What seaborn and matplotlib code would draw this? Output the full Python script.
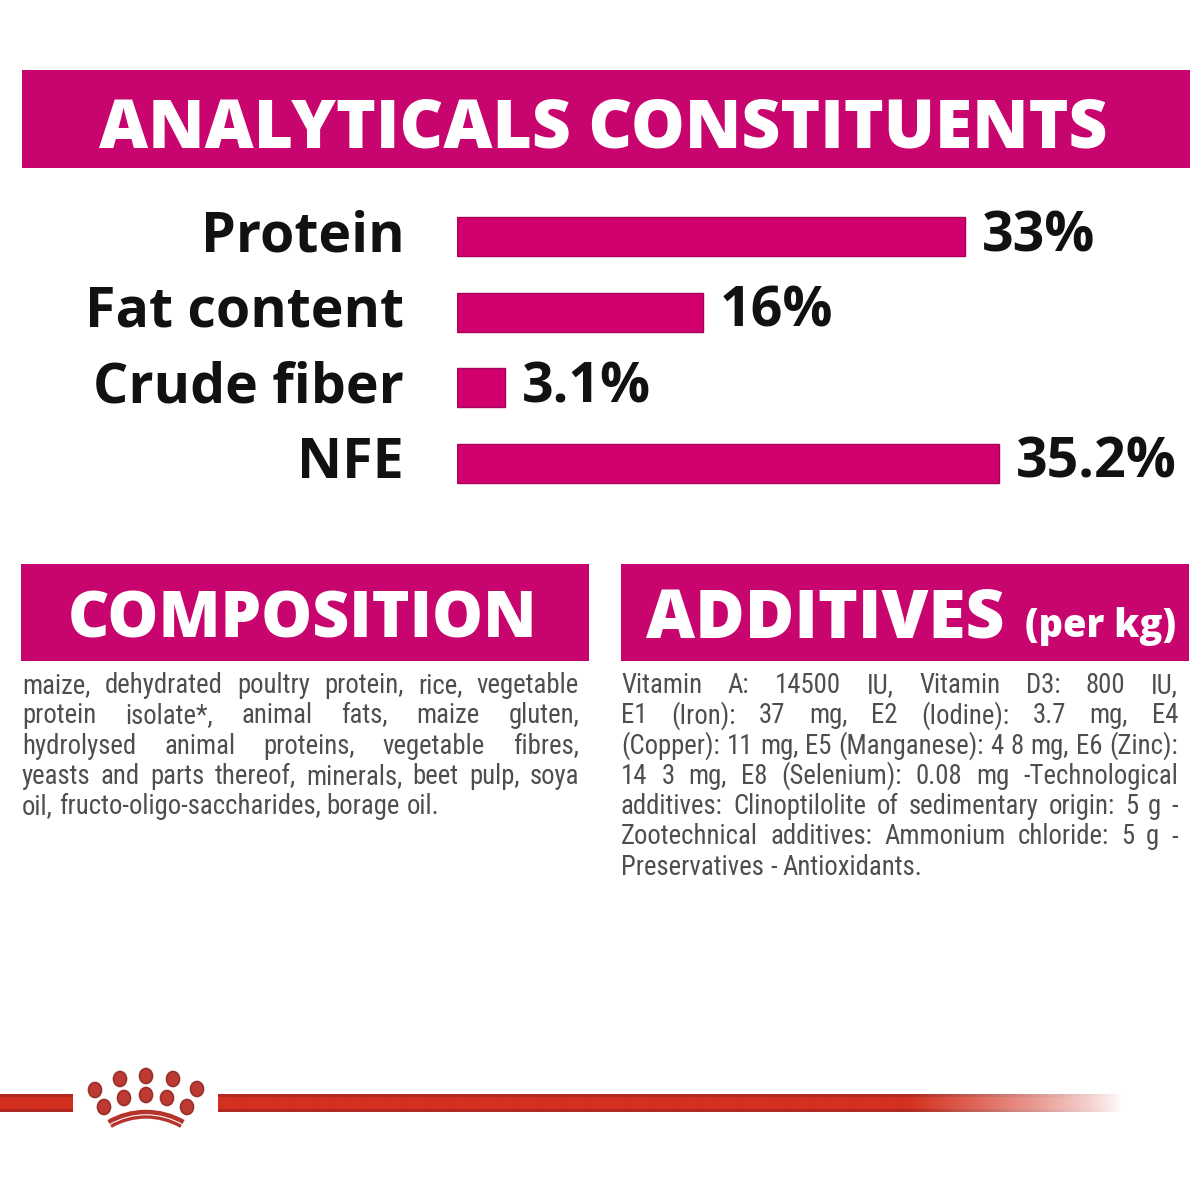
import numpy as np
import matplotlib
matplotlib.use("Agg")
import matplotlib.pyplot as plt
import seaborn as sns
import pandas as pd
from matplotlib.patches import Rectangle, Ellipse, Arc
from matplotlib import font_manager

# ---------------- data ----------------
categories = ["Protein", "Fat content", "Crude fiber", "NFE"]
values = [33.0, 16.0, 3.1, 35.2]
value_labels = ["33%", "16%", "3.1%", "35.2%"]

title_main = "ANALYTICALS CONSTITUENTS"
title_comp = "COMPOSITION"
title_add = "ADDITIVES"
title_add_unit = "(per kg)"

composition_lines = [
    "maize, dehydrated poultry protein, rice, vegetable",
    "protein isolate*, animal fats, maize gluten,",
    "hydrolysed animal proteins, vegetable fibres,",
    "yeasts and parts thereof, minerals, beet pulp, soya",
    "oil, fructo-oligo-saccharides, borage oil.",
]
additives_lines = [
    "Vitamin A: 14500 IU, Vitamin D3: 800 IU,",
    "E1 (Iron): 37 mg, E2 (Iodine): 3.7 mg, E4",
    "(Copper): 11 mg, E5 (Manganese): 4 8 mg, E6 (Zinc):",
    "14 3 mg, E8 (Selenium): 0.08 mg -Technological",
    "additives: Clinoptilolite of sedimentary origin: 5 g -",
    "Zootechnical additives: Ammonium chloride: 5 g -",
    "Preservatives - Antioxidants.",
]

# ---------------- style ----------------
MAGENTA = "#C8046E"
BAR = "#D2006E"
BAR_EDGE = "#A8005A"
RED = "#D3301F"
RED_DARK = "#B02820"
TEXT_GRAY = "#4E4E4E"
INK = "#111111"

sns.set_theme(style="white")
plt.rcParams['font.family'] = ['Roboto', 'DejaVu Sans']

installed = {f.name for f in font_manager.fontManager.ttflist}
body_family = next((f for f in ["Roboto Condensed", "Liberation Sans Narrow",
                                 "Open Sans Condensed", "Roboto"] if f in installed),
                   "DejaVu Sans")
BODY_FAM = [body_family, 'DejaVu Sans']
HEAD_FAM = ['Open Sans', 'DejaVu Sans']

fig = plt.figure(figsize=(12, 12), dpi=100)
fig.patch.set_facecolor("white")
bg = fig.add_axes([0, 0, 1, 1], zorder=0)
bg.set_xlim(0, 1200)
bg.set_ylim(1200, 0)
bg.axis("off")
renderer = fig.canvas.get_renderer()


def fit_text(x, y, s, target_w, fs0=40, **kw):
    t = bg.text(x, y, s, fontsize=fs0, **kw)
    w = t.get_window_extent(renderer).width
    t.set_fontsize(fs0 * target_w / w)
    return t


# ---------------- header boxes ----------------
bg.add_patch(Rectangle((22, 70), 1168, 98, color=MAGENTA, lw=0))
fit_text(603.5, 147, title_main, 1007, family=HEAD_FAM,
         weight='heavy', color='white', ha='center', va='baseline')

bg.add_patch(Rectangle((21, 564), 568, 97, color=MAGENTA, lw=0))
fit_text(302.5, 638, title_comp, 469, family=HEAD_FAM,
         weight='heavy', color='white', ha='center', va='baseline')

bg.add_patch(Rectangle((621, 564), 568, 97, color=MAGENTA, lw=0))
fit_text(646, 637, title_add, 358, family=HEAD_FAM,
         weight='heavy', color='white', ha='left', va='baseline')
fit_text(1025, 637, title_add_unit, 151, family=HEAD_FAM,
         weight='heavy', color='white', ha='left', va='baseline')

# ---------------- bar chart ----------------
px_per_unit = 15.4
ax_left, ax_right, ax_top, ax_bottom = 457, 1190, 199, 501
ax = fig.add_axes([ax_left / 1200, 1 - ax_bottom / 1200,
                   (ax_right - ax_left) / 1200, (ax_bottom - ax_top) / 1200],
                  zorder=2)
ax.patch.set_alpha(0)
df = pd.DataFrame({"category": categories, "value": values})
sns.barplot(data=df, x="value", y="category", orient="h", color=BAR,
            saturation=1, width=0.52, edgecolor=BAR_EDGE, linewidth=1.0, ax=ax)
ax.set_xlim(0, (ax_right - ax_left) / px_per_unit)
ax.set_ylim(3.5, -0.5)
ax.set_xlabel("")
ax.set_ylabel("")
ax.set_xticks([])
for sp in ax.spines.values():
    sp.set_visible(False)
ax.tick_params(axis="y", length=0, pad=38)
for lab in ax.get_yticklabels():
    lab.set_family(HEAD_FAM)
    lab.set_fontweight('bold')
    lab.set_fontsize(40)
    lab.set_color(INK)
    lab.set_verticalalignment('center')
ax.bar_label(ax.containers[0], labels=value_labels, padding=12,
             fontsize=40, fontweight='bold', color=INK, family=HEAD_FAM)

# ---------------- justified body text ----------------
def measure(s, fs):
    t = bg.text(0, 0, s, fontsize=fs, family=BODY_FAM)
    w = t.get_window_extent(renderer).width
    t.remove()
    return w

base_fs = 20
col_w = 557
widest = max(measure(l, base_fs) for l in composition_lines[:-1] + additives_lines[:-1])
body_fs = base_fs * min(1.0, 0.99 * col_w / widest)


def justified(lines, x0, x1, y0, dy, fs):
    space_w = measure("a a", fs) - measure("aa", fs)
    for i, line in enumerate(lines):
        words = line.split(" ")
        y = y0 + i * dy
        texts = [bg.text(0, y, w, fontsize=fs, color=TEXT_GRAY,
                         family=BODY_FAM, va='baseline', ha='left')
                 for w in words]
        widths = [t.get_window_extent(renderer).width for t in texts]
        if i == len(lines) - 1 or len(words) == 1:
            gap = space_w
        else:
            gap = (x1 - x0 - sum(widths)) / (len(words) - 1)
        x = x0
        for t, w in zip(texts, widths):
            t.set_x(x)
            x += w + gap


justified(composition_lines, 22, 579, 693, 30.3, body_fs)
justified(additives_lines, 621, 1178, 693, 30.3, body_fs)

# ---------------- logo line ----------------
def band(x0, x1, fade_start=None, n=600):
    h = 18
    arr = np.zeros((h, n, 4))
    base = np.array(matplotlib.colors.to_rgb(RED))
    dark = np.array(matplotlib.colors.to_rgb(RED_DARK))
    for r in range(h):
        c = dark if (r < 3 or r > h - 4) else base
        arr[r, :, :3] = c
    xs = np.linspace(x0, x1, n)
    alpha = np.ones(n)
    if fade_start is not None:
        alpha = np.clip((x1 - xs) / (x1 - fade_start), 0, 1) ** 0.8
    arr[:, :, 3] = alpha[None, :]
    bg.imshow(arr, extent=[x0, x1, 1112, 1094], aspect='auto',
              interpolation='bilinear', zorder=1)

band(0, 73)
band(218, 1122, fade_start=910)
bg.set_xlim(0, 1200)
bg.set_ylim(1200, 0)

top_row = [(95, 1090), (120, 1079), (146, 1076), (173, 1079), (197, 1089)]
second_row = [(104, 1107), (124, 1098), (146, 1095), (167, 1098), (187, 1107)]
for (cx, cy) in top_row + second_row:
    bg.add_patch(Ellipse((cx, cy), 13, 15, facecolor="#BC3A31",
                         edgecolor="#97302A", lw=1.2, zorder=3))
for r, lw in [(75, 3.2), (70, 2.4)]:
    bg.add_patch(Arc((146, 1187), 2 * r, 2 * r, theta1=240, theta2=300,
                     color="#B5332B", lw=lw, zorder=3))

fig.savefig("out.png", dpi=100, facecolor="white")
